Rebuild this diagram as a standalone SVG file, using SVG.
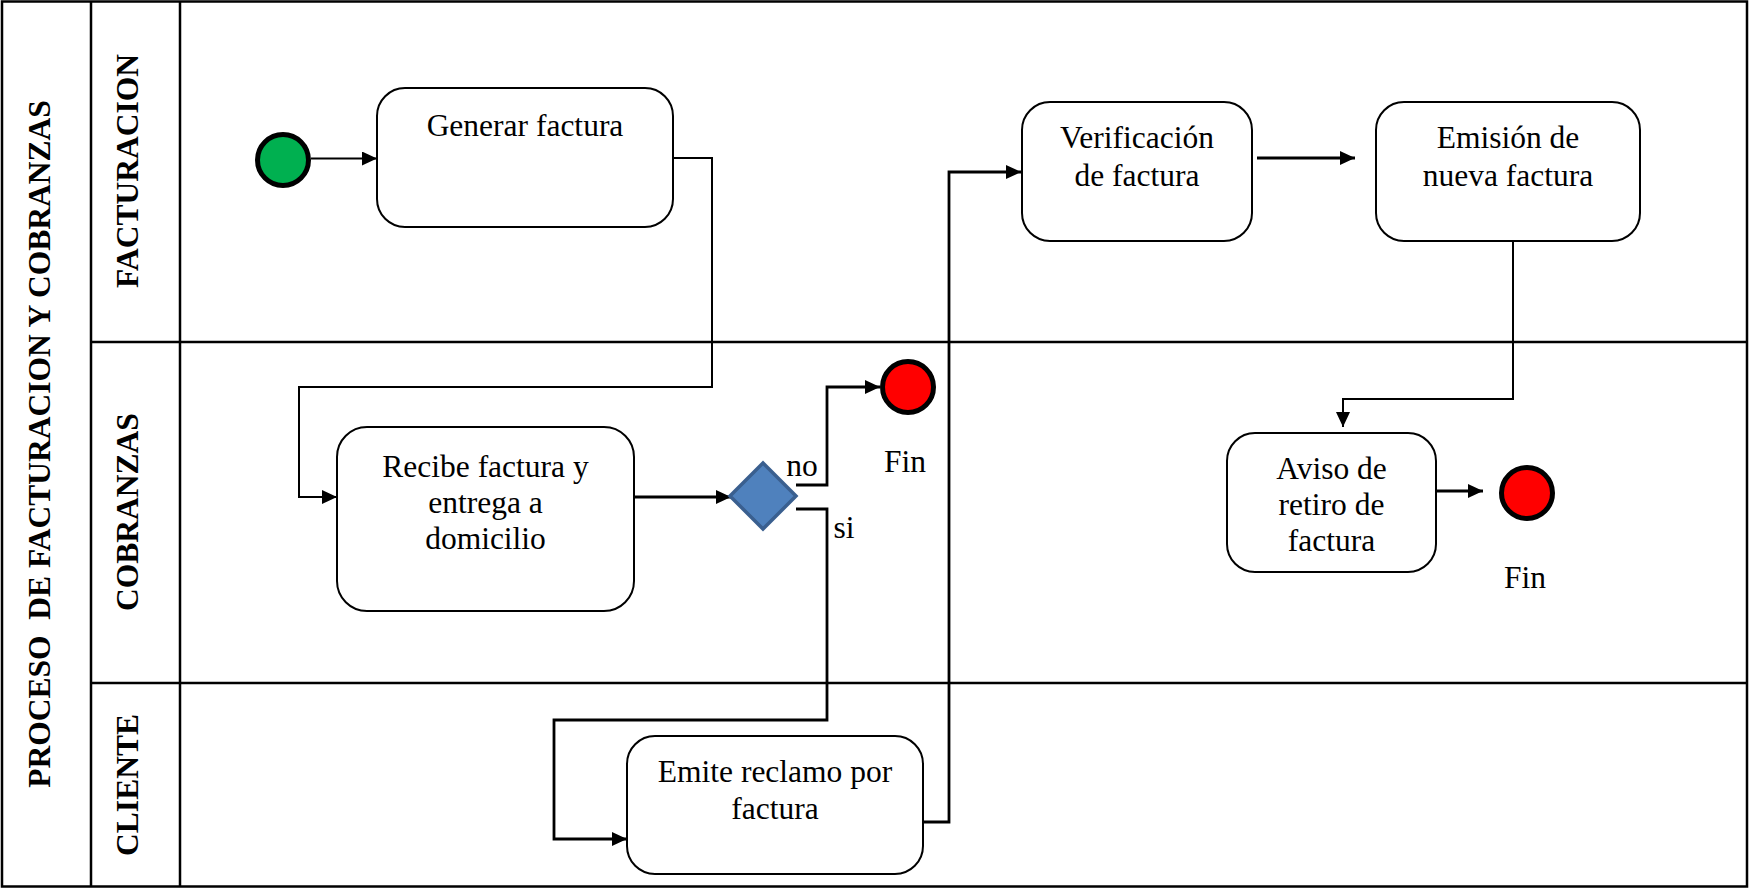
<svg xmlns="http://www.w3.org/2000/svg" width="1749" height="888" viewBox="0 0 1749 888">
<style>
.frame{fill:none;stroke:#000;stroke-width:2.5}
.box{fill:#fff;stroke:#000;stroke-width:2}
.t{font-family:"Liberation Serif","Times New Roman",serif;font-size:31.5px;fill:#000;text-anchor:middle}
.lane{font-family:"Liberation Serif","Times New Roman",serif;font-size:31.5px;font-weight:bold;fill:#000;text-anchor:middle;white-space:pre}
.c{fill:none;stroke:#000;stroke-width:2}
.c3{fill:none;stroke:#000;stroke-width:2.8}
.end{fill:#FF0000;stroke:#000;stroke-width:5}
</style>
<defs>
<marker id="ah" markerUnits="userSpaceOnUse" markerWidth="16" markerHeight="16" refX="15" refY="7" orient="auto">
<path d="M0,0 L15,7 L0,14 Z" fill="#000"/>
</marker>
</defs>
<rect width="1749" height="888" fill="#fff"/>
<g id="pool">
<rect class="frame" x="2" y="1.5" width="1745" height="885"/>
<line class="frame" x1="91" y1="1" x2="91" y2="887"/>
<line class="frame" x1="180" y1="1" x2="180" y2="887"/>
<line class="frame" x1="91" y1="342" x2="1748" y2="342"/>
<line class="frame" x1="91" y1="683" x2="1748" y2="683"/>
<text class="lane" xml:space="preserve" transform="translate(50,444) rotate(-90)">PROCESO  DE FACTURACION Y COBRANZAS</text>
<text class="lane" transform="translate(138,171) rotate(-90)">FACTURACION</text>
<text class="lane" transform="translate(138,512) rotate(-90)">COBRANZAS</text>
<text class="lane" transform="translate(138,785) rotate(-90)">CLIENTE</text>
</g>
<g id="connectors">
<line class="c" x1="311" y1="158.5" x2="377" y2="158.5" marker-end="url(#ah)"/>
<polyline class="c" points="673,158 712,158 712,387 299,387 299,497 337,497" marker-end="url(#ah)"/>
<line class="c3" x1="634" y1="497" x2="731" y2="497" marker-end="url(#ah)"/>
<polyline class="c3" points="796,485 827,485 827,387 880,387" marker-end="url(#ah)"/>
<polyline class="c3" points="796,509 827,509 827,720 554,720 554,839 627,839" marker-end="url(#ah)"/>
<polyline class="c3" points="923,822 949,822 949,172 1021,172" marker-end="url(#ah)"/>
<line class="c3" x1="1257" y1="158" x2="1355" y2="158" marker-end="url(#ah)"/>
<polyline class="c" points="1513,241 1513,399 1343,399 1343,427" marker-end="url(#ah)"/>
<line class="c3" x1="1436" y1="491" x2="1483" y2="491" marker-end="url(#ah)"/>
<text class="t" x="802" y="476">no</text>
<text class="t" x="844" y="538">si</text>
</g>
<g id="start">
<circle cx="283" cy="160" r="25.5" fill="#00B050" stroke="#000" stroke-width="5"/>
</g>
<g id="generar">
<rect class="box" x="377" y="88" width="296" height="139" rx="28"/>
<text class="t" x="525" y="136">Generar factura</text>
</g>
<g id="recibe">
<rect class="box" x="337" y="427" width="297" height="184" rx="30"/>
<text class="t" x="485.5" y="477">Recibe factura y</text>
<text class="t" x="485.5" y="513">entrega a</text>
<text class="t" x="485.5" y="549">domicilio</text>
</g>
<g id="gateway">
<polygon points="763,463 796,496 763,529 730,496" fill="#4F81BD" stroke="#3A5F8F" stroke-width="3.5"/>
</g>
<g id="fin1">
<circle class="end" cx="908" cy="387" r="25.5"/>
<text class="t" x="905" y="472">Fin</text>
</g>
<g id="emite">
<rect class="box" x="627" y="736" width="296" height="138" rx="28"/>
<text class="t" x="775" y="782">Emite reclamo por</text>
<text class="t" x="775" y="819">factura</text>
</g>
<g id="verificacion">
<rect class="box" x="1022" y="102" width="230" height="139" rx="28"/>
<text class="t" x="1137" y="148">Verificación</text>
<text class="t" x="1137" y="186">de factura</text>
</g>
<g id="emision">
<rect class="box" x="1376" y="102" width="264" height="139" rx="28"/>
<text class="t" x="1508" y="148">Emisión de</text>
<text class="t" x="1508" y="186">nueva factura</text>
</g>
<g id="aviso">
<rect class="box" x="1227" y="433" width="209" height="139" rx="28"/>
<text class="t" x="1331.5" y="479">Aviso de</text>
<text class="t" x="1331.5" y="515">retiro de</text>
<text class="t" x="1331.5" y="551">factura</text>
</g>
<g id="fin2">
<circle class="end" cx="1527" cy="493" r="25.5"/>
<text class="t" x="1525" y="588">Fin</text>
</g>
</svg>
